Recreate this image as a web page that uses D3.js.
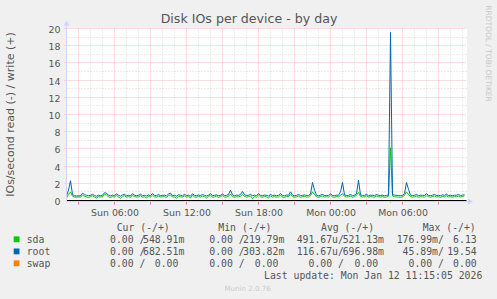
<!DOCTYPE html>
<html>
<head>
<meta charset="utf-8">
<script src="https://d3js.org/d3.v7.min.js"></script>
<style>
body{margin:0;background:#f0f0f0;}
svg{display:block;}
</style>
</head>
<body>
<svg id="DiskGraph"></svg>
<script>
// one value every 10 minutes, starting Sun 02:00
var startTime = new Date(2026,0,11,2,0);
var endTime = new Date(2026,0,12,11,20);
var stepMinutes = 10;

var sdaWrite = [
 0.3,0.7,1.0,0.5,0.4,0.38,0.42,0.4,0.6,0.5,0.42,0.35,0.45,0.55,0.4,0.3,0.45,0.4,0.42,0.7,
 0.65,0.4,0.35,0.45,0.4,0.6,0.42,0.25,0.48,0.55,0.38,0.45,0.35,0.6,0.45,0.4,0.42,0.56,0.38,0.44,
 0.3,0.48,0.4,0.62,0.42,0.38,0.52,0.4,0.45,0.44,0.35,0.58,0.66,0.4,0.42,0.25,0.5,0.44,0.38,0.55,
 0.4,0.46,0.28,0.6,0.42,0.38,0.48,0.4,0.52,0.44,0.3,0.46,0.62,0.38,0.42,0.5,0.36,0.44,0.58,0.4,
 0.42,0.5,0.75,0.46,0.36,0.44,0.42,0.5,0.7,0.48,0.4,0.44,0.54,0.22,0.45,0.4,0.62,0.42,0.36,0.48,
 0.44,0.3,0.52,0.4,0.46,0.38,0.42,0.64,0.4,0.35,0.48,0.44,0.7,0.45,0.38,0.42,0.52,0.36,0.44,0.48,
 0.4,0.42,0.56,1.0,0.7,0.42,0.36,0.46,0.52,0.4,0.44,0.38,0.6,0.42,0.36,0.46,0.42,0.6,0.8,0.48,
 0.4,0.44,0.52,0.36,0.46,0.6,0.95,0.48,0.4,0.44,0.55,0.38,0.46,0.42,0.38,0.52,0.44,0.4,0.46,0.36,
 0.42,0.48,6.13,0.52,0.44,0.42,0.4,0.36,0.44,0.6,1.0,0.7,0.46,0.4,0.44,0.52,0.36,0.46,0.42,0.4,
 0.6,0.44,0.38,0.46,0.52,0.4,0.44,0.36,0.48,0.42,0.56,0.4,0.44,0.38,0.46,0.42,0.52,0.4,0.46,0.55
];
var rootWrite = [
 0.55,1.2,2.3,0.7,0.55,0.52,0.55,0.53,0.85,0.7,0.6,0.55,0.6,0.72,0.58,0.5,0.62,0.55,0.6,0.9,
 0.85,0.6,0.55,0.62,0.58,0.78,0.6,0.5,0.66,0.72,0.55,0.6,0.52,0.8,0.62,0.55,0.6,0.74,0.56,0.6,
 0.52,0.65,0.58,0.8,0.6,0.55,0.7,0.56,0.6,0.62,0.54,0.76,0.85,0.58,0.6,0.5,0.68,0.6,0.55,0.72,
 0.58,0.62,0.5,0.78,0.6,0.55,0.64,0.58,0.7,0.6,0.52,0.62,0.8,0.56,0.6,0.66,0.55,0.6,0.75,0.58,
 0.6,0.7,1.2,0.65,0.55,0.62,0.6,0.7,1.05,0.66,0.58,0.6,0.72,0.55,0.62,0.58,0.8,0.6,0.55,0.64,
 0.6,0.52,0.7,0.58,0.62,0.56,0.6,0.82,0.58,0.55,0.64,0.6,1.0,0.62,0.55,0.6,0.7,0.56,0.6,0.65,
 0.58,0.6,0.75,2.1,1.2,0.6,0.55,0.62,0.7,0.58,0.6,0.56,0.78,0.6,0.55,0.62,0.6,1.0,2.1,0.65,
 0.58,0.6,0.7,0.55,0.62,0.8,2.35,0.66,0.58,0.6,0.72,0.55,0.62,0.6,0.56,0.7,0.6,0.58,0.62,0.55,
 0.6,0.65,19.54,0.7,0.62,0.6,0.58,0.55,0.6,0.8,2.1,1.3,0.62,0.58,0.6,0.7,0.55,0.62,0.6,0.58,
 0.8,0.6,0.56,0.62,0.7,0.58,0.6,0.55,0.66,0.6,0.74,0.58,0.6,0.55,0.62,0.6,0.7,0.58,0.62,0.68
];
// reads are drawn below zero
var sdaRead = [
 0,0,0,0,0,0,0,0,0,0,0,0,0,0,0,0,0,0,0,0,
 0,0,0,0,0,0,0,0,0,0,0,0,0,0,0,0,0,0,0,0,
 0.01,0,0,0,0,0,0,0,0,0,0,0,0,0,0,0,0,0,0,0,
 0,0,0,0,0,0,0,0,0,0,0,0,0,0,0,0,0,0,0,0,
 0,0,0,0,0,0,0,0,0,0,0,0,0,0,0,0,0,0,0,0,
 0,0,0,0,0,0,0,0,0,0,0,0,0,0,0,0,0,0,0,0,
 0.01,0,0,0,0,0,0,0,0,0,0,0,0,0,0,0,0,0,0,0,
 0,0,0,0,0,0,0,0,0,0,0,0,0,0,0,0,0,0,0,0,
 0,0,0.177,0,0,0,0,0,0,0,0,0,0,0,0,0,0,0,0,0,
 0,0,0,0,0,0,0,0,0,0,0,0,0,0,0,0,0,0,0,0
];
var rootRead = [
 0,0,0,0,0,0,0,0,0,0,0,0,0,0,0,0,0,0,0,0,
 0,0,0,0,0,0,0,0,0,0,0,0,0,0,0,0,0,0,0,0,
 0,0,0,0,0,0,0,0,0,0,0,0,0,0,0,0,0,0,0,0,
 0,0,0,0,0,0,0,0,0,0,0,0,0,0,0,0,0,0,0,0,
 0,0,0,0,0,0,0,0,0,0,0,0,0,0,0,0,0,0,0,0,
 0,0,0,0,0,0,0,0,0,0,0,0,0,0,0,0,0,0,0,0,
 0,0,0,0,0,0,0,0,0,0,0,0,0,0,0,0,0,0,0,0,
 0,0,0,0,0,0,0,0,0,0,0,0,0,0,0,0,0,0,0,0,
 0,0,0.0459,0,0,0,0,0,0,0,0,0,0,0,0,0,0,0,0,0,
 0,0,0,0,0,0,0,0,0,0,0,0,0,0,0,0,0,0,0,0
];
var swapWrite = [
 0,0,0,0,0,0,0,0,0,0,0,0,0,0,0,0,0,0,0,0,
 0,0,0,0,0,0,0,0,0,0,0,0,0,0,0,0,0,0,0,0,
 0,0,0,0,0,0,0,0,0,0,0,0,0,0,0,0,0,0,0,0,
 0,0,0,0,0,0,0,0,0,0,0,0,0,0,0,0,0,0,0,0,
 0,0,0,0,0,0,0,0,0,0,0,0,0,0,0,0,0,0,0,0,
 0,0,0,0,0,0,0,0,0,0,0,0,0,0,0,0,0,0,0,0,
 0,0,0,0,0,0,0,0,0,0,0,0,0,0,0,0,0,0,0,0,
 0,0,0,0,0,0,0,0,0,0,0,0,0,0,0,0,0,0,0,0,
 0,0,0,0,0,0,0,0,0,0,0,0,0,0,0,0,0,0,0,0,
 0,0,0,0,0,0,0,0,0,0,0,0,0,0,0,0,0,0,0,0
];
var swapRead = swapWrite.slice();

var yTickValues = [0,2,4,6,8,10,12,14,16,18,20];

var legendNames = ["sda","root","swap"];
var legendHeaders = ["Cur (-/+)","Min (-/+)","Avg (-/+)","Max (-/+)"];
var curRead  = ["0.00","0.00","0.00"];
var curWrite = ["548.91m","682.51m","0.00"];
var minRead  = ["0.00","0.00","0.00"];
var minWrite = ["219.79m","303.82m","0.00"];
var avgRead  = ["491.67u","116.67u","0.00"];
var avgWrite = ["521.13m","696.98m","0.00"];
var maxRead  = ["176.99m","45.89m","0.00"];
var maxWrite = ["6.13","19.54","0.00"];
var lastUpdate = "Last update: Mon Jan 12 11:15:05 2026";

var colors = {sda:"#00cc00", root:"#0066b3", swap:"#ff8000"};
var fontColor = "#555555";

var screen = {width:497, height:299};
var plot = {left:66.5, right:466.5, top:28.5, bottom:200.5};

var svg = d3.select("#DiskGraph")
    .attr("width",screen.width)
    .attr("height",screen.height);

var xScale = d3.scaleTime()
    .domain([startTime,endTime])
    .range([plot.left,plot.right]);
var yScale = d3.scaleLinear()
    .domain([0,20])
    .range([plot.bottom,plot.top]);

var timeAt = function(i){
    return new Date(startTime.getTime()+i*stepMinutes*60000);
}
var crisp = function(v){ return Math.round(v-0.5)+0.5; }

// canvas
svg.append("rect")
    .attr("x",plot.left+0.5)
    .attr("y",plot.top-0.5)
    .attr("width",plot.right-plot.left)
    .attr("height",plot.bottom-plot.top+0.5)
    .attr("fill","#ffffff");

var drawGrid = function(){
    var grid = svg.append("g").classed("grid",true);
    var hours = xScale.ticks(d3.timeHour.every(1));
    var minorHours = hours.filter(function(t){return t.getHours()%3!=0;});
    var majorHours = hours.filter(function(t){return t.getHours()%3==0;});
    var minorY = [1,3,5,7,9,11,13,15,17,19];
    var minorColor = "rgba(150,150,150,0.35)";
    var majorColor = "rgba(240,90,90,0.4)";

    grid.selectAll(".minx").data(minorHours).enter().append("line")
        .attr("x1",function(t){return crisp(xScale(t));})
        .attr("x2",function(t){return crisp(xScale(t));})
        .attr("y1",plot.top).attr("y2",plot.bottom)
        .attr("stroke",minorColor)
        .attr("stroke-dasharray","1,2");
    grid.selectAll(".miny").data(minorY).enter().append("line")
        .attr("x1",plot.left).attr("x2",plot.right)
        .attr("y1",function(v){return crisp(yScale(v));})
        .attr("y2",function(v){return crisp(yScale(v));})
        .attr("stroke",minorColor)
        .attr("stroke-dasharray","1,2");
    grid.selectAll(".majx").data(majorHours).enter().append("line")
        .attr("x1",function(t){return crisp(xScale(t));})
        .attr("x2",function(t){return crisp(xScale(t));})
        .attr("y1",plot.top).attr("y2",plot.bottom)
        .attr("stroke",majorColor)
        .attr("stroke-dasharray","1,1");
    grid.selectAll(".majy").data(yTickValues.slice(1)).enter().append("line")
        .attr("x1",plot.left-2).attr("x2",plot.right)
        .attr("y1",function(v){return crisp(yScale(v));})
        .attr("y2",function(v){return crisp(yScale(v));})
        .attr("stroke",majorColor)
        .attr("stroke-dasharray","1,1");
    // tick marks under the x axis
    grid.selectAll(".tickx").data(majorHours).enter().append("line")
        .attr("x1",function(t){return crisp(xScale(t));})
        .attr("x2",function(t){return crisp(xScale(t));})
        .attr("y1",plot.bottom+1).attr("y2",plot.bottom+4)
        .attr("stroke","rgba(240,90,90,0.75)");
}

var drawLines = function(){
    var g = svg.append("g").classed("lines",true).attr("fill","none").attr("stroke-width",1);
    var upLine = d3.line()
        .x(function(d,i){return xScale(timeAt(i));})
        .y(function(d){return yScale(d);});
    var downLine = d3.line()
        .x(function(d,i){return xScale(timeAt(i));})
        .y(function(d){return yScale(-d);});
    var series = [
        {values:swapRead, gen:downLine, color:colors.swap},
        {values:swapWrite, gen:upLine, color:colors.swap},
        {values:sdaRead, gen:downLine, color:colors.sda},
        {values:sdaWrite, gen:upLine, color:colors.sda},
        {values:rootRead, gen:downLine, color:colors.root},
        {values:rootWrite, gen:upLine, color:colors.root}
    ];
    series.forEach(function(s){
        g.append("path")
            .datum(s.values)
            .attr("stroke",s.color)
            .attr("d",s.gen);
    });
    // zero line
    svg.append("line")
        .attr("x1",plot.left).attr("x2",plot.right)
        .attr("y1",yScale(0)).attr("y2",yScale(0))
        .attr("stroke","#000000");
}

var drawAxes = function(){
    var axisColor = "#cfd6f8";
    var a = svg.append("g").classed("axes",true);
    a.append("line")
        .attr("x1",plot.left).attr("x2",plot.right+2)
        .attr("y1",plot.bottom+1).attr("y2",plot.bottom+1)
        .attr("stroke",axisColor);
    a.append("line")
        .attr("x1",plot.left).attr("x2",plot.left)
        .attr("y1",plot.bottom+1).attr("y2",plot.top-4)
        .attr("stroke",axisColor);
    a.append("path")
        .attr("d","M468,198.5L468,204.5L473,201.5Z")
        .attr("fill",axisColor);
    a.append("path")
        .attr("d","M63.5,25.5L69.5,25.5L66.5,20.5Z")
        .attr("fill",axisColor);

    var xAxis = d3.axisBottom(xScale)
        .ticks(d3.timeHour.every(6))
        .tickFormat(d3.timeFormat("%a %H:%M"))
        .tickSize(0).tickPadding(0);
    var xg = svg.append("g")
        .attr("transform","translate(0,206)")
        .call(xAxis);
    xg.select(".domain").remove();
    xg.selectAll("text")
        .attr("dy","9.7")
        .attr("fill",fontColor)
        .style("font-family","'DejaVu Sans'")
        .style("font-size","9.4px");

    var yAxis = d3.axisLeft(yScale)
        .tickValues(yTickValues)
        .tickSize(0).tickPadding(0);
    var yg = svg.append("g")
        .attr("transform","translate(60.5,0.7)")
        .call(yAxis);
    yg.select(".domain").remove();
    yg.selectAll("text")
        .attr("dy","0.35em")
        .attr("fill",fontColor)
        .style("font-family","'DejaVu Sans'")
        .style("font-size","9.4px");
}

var createLabels = function(){
    var labels = svg.append("g").classed("labels",true)
        .style("font-family","'DejaVu Sans'");
    labels.append("text")
        .text("Disk IOs per device - by day")
        .attr("text-anchor","middle")
        .attr("x",249).attr("y",23.2)
        .attr("fill",fontColor)
        .style("font-size","12.6px");
    labels.append("g")
        .attr("transform","translate(14,114.5)")
        .append("text")
        .text("IOs/second read (-) / write (+)")
        .attr("text-anchor","middle")
        .attr("transform","rotate(-90)")
        .attr("fill",fontColor)
        .style("font-size","11px");
    labels.append("g")
        .attr("transform","translate(485.5,53.5)")
        .append("text")
        .text("RRDTOOL / TOBI OETIKER")
        .attr("text-anchor","middle")
        .attr("transform","rotate(90)")
        .attr("fill","#c8c8c8")
        .style("font-size","7.5px");
    labels.append("text")
        .text("Munin 2.0.76")
        .attr("text-anchor","middle")
        .attr("x",247.7).attr("y",291.3)
        .attr("fill","#cccccc")
        .style("font-size","7.1px");
}

var pad = function(s){
    var last = s.charAt(s.length-1);
    var num = s, suf = " ";
    if (isNaN(+last)) { num = s.slice(0,-1); suf = last; }
    while (num.length<6) num = " "+num;
    return num+suf;
}

var drawLegend = function(){
    var leg = svg.append("g").classed("legend",true)
        .attr("fill",fontColor)
        .style("font-family","'DejaVu Sans Mono'")
        .style("font-size","9.8px")
        .style("white-space","pre");
    var rowY = [243, 255.1, 267];
    var colStart = [98.2, 197.5, 296.7, 396.7];
    var colEnd = [184.3, 284.3, 384, 482.6];
    var headerX = [116.7, 218.3, 321, 422.7];
    var reads = [curRead,minRead,avgRead,maxRead];
    var writes = [curWrite,minWrite,avgWrite,maxWrite];

    leg.selectAll(".head").data(legendHeaders).enter().append("text")
        .text(function(d){return d;})
        .attr("x",function(d,i){return headerX[i];})
        .attr("y",231.3);

    legendNames.forEach(function(name,r){
        leg.append("rect")
            .attr("x",13.7).attr("y",rowY[r]-6.6)
            .attr("width",5.8).attr("height",5.8)
            .attr("fill",colors[name]);
        leg.append("text").text(name)
            .attr("x",26.7).attr("y",rowY[r]);
        for (var c=0;c<4;c++){
            leg.append("text")
                .attr("xml:space","preserve")
                .text(pad(reads[c][r])+"/")
                .attr("x",colStart[c]).attr("y",rowY[r]);
            leg.append("text")
                .attr("xml:space","preserve")
                .attr("text-anchor","end")
                .text(pad(writes[c][r]))
                .attr("x",colEnd[c]).attr("y",rowY[r]);
        }
    });
    leg.append("text")
        .text(lastUpdate)
        .attr("text-anchor","end")
        .attr("x",482.3).attr("y",279.3);
}

drawGrid();
drawLines();
drawAxes();
createLabels();
drawLegend();
</script>
</body>
</html>
